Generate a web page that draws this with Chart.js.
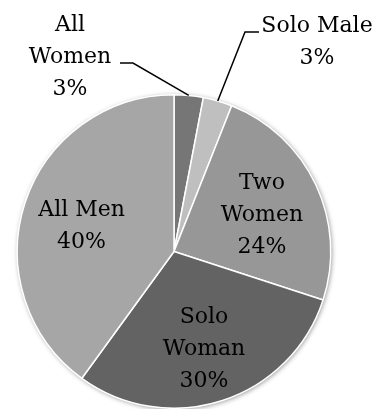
<!DOCTYPE html>
<html>
<head>
<meta charset="utf-8">
<script src="https://cdn.jsdelivr.net/npm/chart.js@4.4.1/dist/chart.umd.min.js"></script>
<style>
  html, body { margin: 0; padding: 0; background: #fff; }
  #wrap { width: 374px; height: 409px; position: relative; }
</style>
</head>
<body>
<div id="wrap"><canvas id="pie"></canvas></div>
<script>
// group breakdown, clockwise from 12 o'clock
const categories = ["All Women", "Solo Male", "Two Women", "Solo Woman", "All Men"];
const shares = [3, 3, 24, 30, 40];
const sliceColors = ["#767676", "#bfbfbf", "#979797", "#636363", "#a6a6a6"];

// text lines for each slice label
const labelLines = [
  ["All", "Women", "3%"],
  ["Solo Male", "3%"],
  ["Two", "Women", "24%"],
  ["Solo", "Woman", "30%"],
  ["All Men", "40%"]
];

// outside labels: text centre, elbow and end of the leader line
const outsideLabels = {
  0: { text: [70, 57], elbow: [133, 63], end: [120, 63] },
  1: { text: [317, 42], elbow: [245, 32], end: [259, 32] }
};

const FONT = '22px "DejaVu Serif"';
const LINE_H = 32;

// soft shadow under the whole pie
const pieShadow = {
  id: "pieShadow",
  beforeDatasetsDraw(chart) {
    const arc = chart.getDatasetMeta(0).data[0];
    if (!arc) return;
    const ctx = chart.ctx;
    ctx.save();
    ctx.shadowColor = "rgba(0,0,0,0.45)";
    ctx.shadowBlur = 5;
    ctx.shadowOffsetX = 1;
    ctx.shadowOffsetY = 1;
    ctx.fillStyle = "#fff";
    ctx.beginPath();
    ctx.arc(arc.x, arc.y, arc.outerRadius, 0, Math.PI * 2);
    ctx.fill();
    ctx.restore();
  }
};

// slice labels, inside for big slices, outside with leader lines for small ones
const sliceLabels = {
  id: "sliceLabels",
  afterDatasetsDraw(chart) {
    const ctx = chart.ctx;
    const meta = chart.getDatasetMeta(0);
    ctx.save();
    ctx.font = FONT;
    ctx.fillStyle = "#000";
    ctx.textAlign = "center";
    ctx.textBaseline = "middle";
    meta.data.forEach((arc, i) => {
      const mid = (arc.startAngle + arc.endAngle) / 2;
      const lines = labelLines[i];
      let cx, cy;
      const out = outsideLabels[i];
      if (out) {
        const ex = arc.x + Math.cos(mid) * arc.outerRadius;
        const ey = arc.y + Math.sin(mid) * arc.outerRadius;
        ctx.strokeStyle = "#000";
        ctx.lineWidth = 1.5;
        ctx.beginPath();
        ctx.moveTo(ex, ey);
        ctx.lineTo(out.elbow[0], out.elbow[1]);
        ctx.lineTo(out.end[0], out.end[1]);
        ctx.stroke();
        cx = out.text[0];
        cy = out.text[1];
      } else {
        const r = arc.outerRadius * 0.62;
        cx = arc.x + Math.cos(mid) * r;
        cy = arc.y + Math.sin(mid) * r + 5;
      }
      const top = cy - (lines.length - 1) * LINE_H / 2;
      lines.forEach((t, k) => ctx.fillText(t, cx, top + k * LINE_H));
    });
    ctx.restore();
  }
};

new Chart(document.getElementById("pie"), {
  type: "pie",
  data: {
    labels: categories,
    datasets: [{
      data: shares,
      backgroundColor: sliceColors,
      borderColor: "#ffffff",
      borderWidth: 1.5
    }]
  },
  options: {
    responsive: true,
    maintainAspectRatio: false,
    animation: false,
    layout: { padding: { left: 16, right: 42, top: 94, bottom: 0 } },
    plugins: {
      legend: { display: false },
      tooltip: { enabled: false }
    }
  },
  plugins: [pieShadow, sliceLabels]
});
</script>
</body>
</html>
